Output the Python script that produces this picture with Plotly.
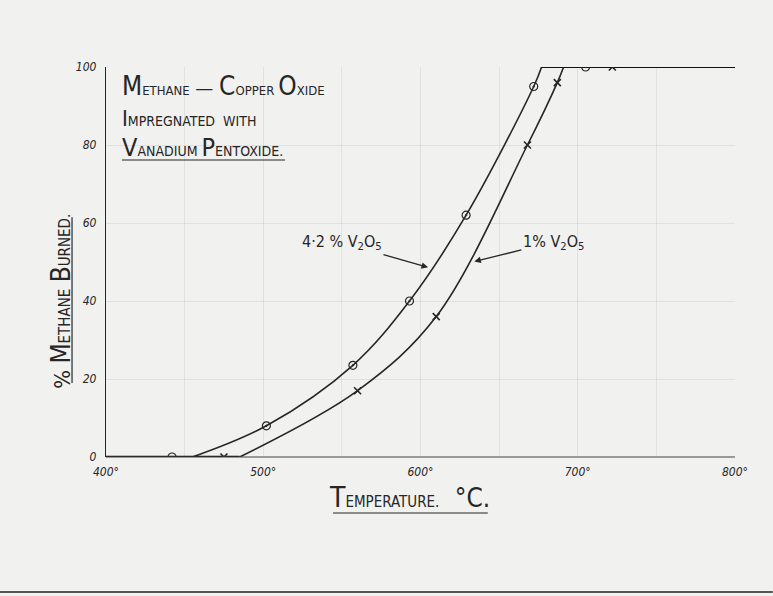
import plotly.graph_objects as go

# ---- data ----
temp_42_pts = [442, 502, 557, 593, 629, 672, 705]
burn_42_pts = [0, 8, 23.5, 40, 62, 95, 100]
temp_1_pts = [475, 560, 610, 668, 687, 722]
burn_1_pts = [0, 17, 36, 80, 96, 100]

# hand-drawn smooth curves (start of rise -> reaching 100 %)
temp_42_curve = [455, 502, 557, 593, 629, 672, 677]
burn_42_curve = [0, 8, 23.5, 40, 62, 95, 100]
temp_1_curve = [485, 560, 610, 668, 687, 691]
burn_1_curve = [0, 17, 36, 80, 96, 100]

flat_zero_t = [400, 485]
flat_zero_v = [0, 0]
flat_top_t = [677, 800]
flat_top_v = [100, 100]

x_ticks = [400, 500, 600, 700, 800]
x_tick_text = ["400°", "500°", "600°", "700°", "800°"]
y_ticks = [0, 20, 40, 60, 80, 100]
y_tick_text = ["0", "20", "40", "60", "80", "100"]

INK = "#262626"
FONT = "DejaVu Sans Condensed, DejaVu Sans, sans-serif"
BG = "#f1f1f0"

fig = go.Figure()

line_style = dict(color=INK, width=1.6)
fig.add_trace(go.Scatter(x=temp_42_curve, y=burn_42_curve, mode="lines",
                         line=dict(shape="spline", smoothing=1.0, **line_style),
                         hoverinfo="skip", showlegend=False))
fig.add_trace(go.Scatter(x=temp_1_curve, y=burn_1_curve, mode="lines",
                         line=dict(shape="spline", smoothing=1.0, **line_style),
                         hoverinfo="skip", showlegend=False))
fig.add_trace(go.Scatter(x=flat_zero_t, y=flat_zero_v, mode="lines",
                         line=dict(color="#111", width=2.6), showlegend=False))
fig.add_trace(go.Scatter(x=flat_top_t, y=flat_top_v, mode="lines",
                         line=dict(color="#111", width=2.2), showlegend=False))

fig.add_trace(go.Scatter(x=temp_42_pts, y=burn_42_pts, mode="markers",
                         marker=dict(symbol="circle-open-dot", size=8,
                                     color=INK, line=dict(width=1.2)),
                         name="4·2 % V2O5", showlegend=False))
fig.add_trace(go.Scatter(x=temp_1_pts, y=burn_1_pts, mode="markers",
                         marker=dict(symbol="x-thin-open", size=7,
                                     color=INK, line=dict(width=1.6, color=INK)),
                         name="1 % V2O5", showlegend=False))


def sc(word, big=26, small=12):
    return f"<span style='font-size:{big}px'>{word[0]}</span>" \
           f"<span style='font-size:{small}px'>{word[1:].upper()}</span>"


title_lines = [
    (sc("Methane", 26, 13) + "<span style='font-size:20px'> — </span>"
     + sc("Copper", 26, 13) + " " + sc("Oxide", 26, 13), 0.908),
    (sc("Impregnated", 22, 14) + "  " + "<span style='font-size:14px'>WITH</span>", 0.831),
    (sc("Vanadium", 25, 14) + " " + sc("Pentoxide.", 25, 14), 0.752),
]
for t, yy in title_lines:
    fig.add_annotation(text=t, xref="paper", yref="paper",
                       x=0.022, y=yy, xanchor="left", yanchor="bottom",
                       showarrow=False, font=dict(family=FONT, size=14, color=INK))

fig.add_annotation(text="4·2 % V<sub>2</sub>O<sub>5</sub>", x=606, y=48.5,
                   ax=-88, ay=-25, showarrow=True, arrowhead=2, arrowsize=1,
                   arrowwidth=1.3, arrowcolor=INK, standoff=2,
                   font=dict(family=FONT, size=16, color=INK))
fig.add_annotation(text="1% V<sub>2</sub>O<sub>5</sub>", x=633, y=50,
                   ax=81, ay=-20, showarrow=True, arrowhead=2, arrowsize=1,
                   arrowwidth=1.3, arrowcolor=INK, standoff=2,
                   font=dict(family=FONT, size=16, color=INK))

# axis titles as annotations (placed like the hand lettering)
fig.add_annotation(text=sc("Temperature.", 28, 15) + "   "
                   + "<span style='font-size:26px'>°C.</span>",
                   xref="paper", yref="paper", x=0.483, y=-0.105,
                   xanchor="center", yanchor="middle", showarrow=False,
                   font=dict(family=FONT, size=18, color=INK))
fig.add_annotation(text="% " + sc("Methane", 26, 15) + " " + sc("Burned.", 26, 15),
                   xref="paper", yref="paper", x=-0.072, y=0.40, textangle=-90,
                   xanchor="center", yanchor="middle", showarrow=False,
                   font=dict(family=FONT, size=22, color=INK))

# hand-drawn underlines
underline = dict(color=INK, width=1.2)
fig.add_shape(type="line", xref="paper", yref="paper",
              x0=0.0254, x1=0.2846, y0=0.7615, y1=0.7615, line=underline)
fig.add_shape(type="line", xref="paper", yref="paper",
              x0=0.361, x1=0.607, y0=-0.1436, y1=-0.1436, line=underline)
fig.add_shape(type="line", xref="paper", yref="paper",
              x0=-0.054, x1=-0.054, y0=0.19, y1=0.615, line=underline)

fig.update_xaxes(range=[400, 800], tickvals=x_ticks, ticktext=x_tick_text,
                 showgrid=True, gridcolor="rgba(0,0,0,0.07)", gridwidth=1,
                 zeroline=False, showline=False, ticks="",
                 ticklabelstandoff=6,
                 tickfont=dict(family=FONT, size=12, color=INK, style="italic"),
                 minor=dict(showgrid=True, gridcolor="rgba(0,0,0,0.06)",
                            tickvals=[450, 550, 650, 750]))
fig.update_yaxes(range=[0, 100], tickvals=y_ticks, ticktext=y_tick_text,
                 showgrid=True, gridcolor="rgba(0,0,0,0.07)", zeroline=False,
                 showline=True, linecolor=INK, linewidth=1.4, ticks="",
                 ticklabelstandoff=6,
                 tickfont=dict(family=FONT, size=12, color=INK, style="italic"))

fig.add_shape(type="line", xref="paper", yref="paper", x0=0, x1=1, y0=0, y1=0,
              line=dict(color="#444", width=1.2))
fig.add_shape(type="line", xref="paper", yref="paper", x0=-0.17, x1=1.06,
              y0=-0.346, y1=-0.346, line=dict(color="#555", width=2))

fig.update_layout(width=773, height=596,
                  margin=dict(l=106, r=38, t=67, b=139),
                  paper_bgcolor=BG, plot_bgcolor=BG,
                  showlegend=False)

fig.write_html("out.html", config={"displayModeBar": False},
               post_script="document.body.style.margin='0';"
                           "document.body.style.background='%s';" % BG)
